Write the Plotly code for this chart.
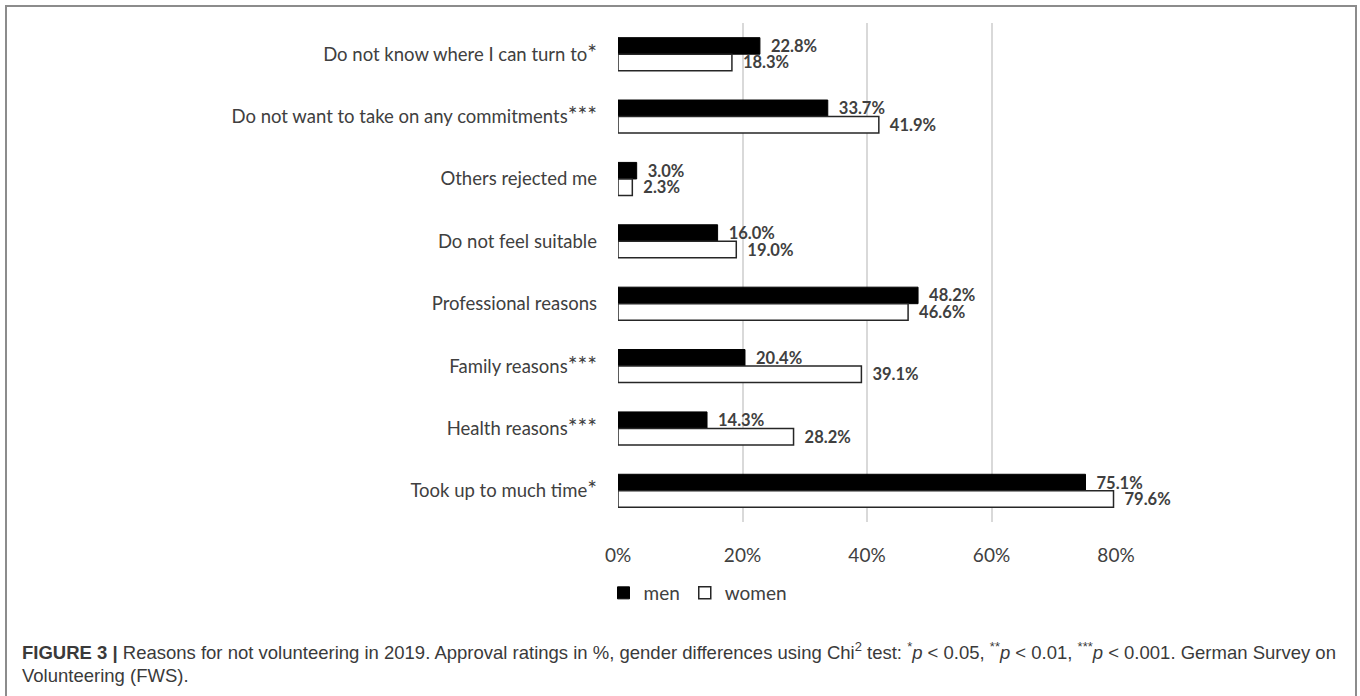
import plotly.graph_objects as go

# Reasons for not volunteering, top to bottom
categories = [
    "Do not know where I can turn to*",
    "Do not want to take on any commitments***",
    "Others rejected me",
    "Do not feel suitable",
    "Professional reasons",
    "Family reasons***",
    "Health reasons***",
    "Took up to much time*",
]
men = [0.228, 0.337, 0.030, 0.160, 0.482, 0.204, 0.143, 0.751]
women = [0.183, 0.419, 0.023, 0.190, 0.466, 0.391, 0.282, 0.796]
tick_vals = [0, 0.2, 0.4, 0.6, 0.8]
tick_text = ["0%", "20%", "40%", "60%", "80%"]

W, H = 1360, 696
# plot area in pixels
PX0, PX1, PY0, PY1 = 618, 1116, 23, 522


def px_x(p):
    return (p - PX0) / (PX1 - PX0)


def px_y(p):
    return (PY1 - p) / (PY1 - PY0)


def star_label(name):
    # draw the significance asterisks a little larger than the words
    base = name.rstrip("*")
    stars = name[len(base):]
    if not stars:
        return base
    return base + '<span style="font-size:23px">' + stars + "</span>"


LABEL = "#404040"
FONT = "Lato, Carlito, 'Open Sans', sans-serif"

fig = go.Figure()
fig.add_trace(go.Bar(
    name="men", y=categories, x=men, orientation="h",
    marker=dict(color="black", line=dict(color="black", width=1)),
    text=["  " + f"{v*100:.1f}%" for v in men], textposition="outside",
    constraintext="none",
    textfont=dict(family=FONT, size=16.5, color=LABEL, weight="bold"),
    cliponaxis=False,
))
fig.add_trace(go.Bar(
    name="women", y=categories, x=women, orientation="h",
    marker=dict(color="white", line=dict(color="#262626", width=1.5)),
    text=["  " + f"{v*100:.1f}%" for v in women], textposition="outside",
    constraintext="none",
    textfont=dict(family=FONT, size=16.5, color=LABEL, weight="bold"),
    cliponaxis=False,
))

fig.update_layout(
    width=W, height=H,
    margin=dict(l=PX0, r=W - PX1, t=PY0, b=H - PY1),
    paper_bgcolor="white", plot_bgcolor="white",
    barmode="group", bargap=0.47, bargroupgap=0,
    font=dict(family=FONT, color=LABEL),
    showlegend=True,
    legend=dict(
        orientation="h", x=px_x(698), y=px_y(593), xanchor="center", yanchor="middle",
        font=dict(family=FONT, size=19, color=LABEL), traceorder="normal",
        itemwidth=30, bgcolor="rgba(0,0,0,0)",
    ),
    xaxis=dict(
        range=[0, 0.8], tickvals=tick_vals, ticktext=tick_text,
        showgrid=True, gridcolor="#d9d9d9", gridwidth=1.5,
        zeroline=False, showline=False, ticks="",
        ticklabelstandoff=20,
        tickfont=dict(family=FONT, size=19, color=LABEL),
    ),
    yaxis=dict(
        autorange="reversed", showgrid=False, zeroline=False, showline=False,
        ticks="", ticklabelstandoff=20,
        tickmode="array", tickvals=categories,
        ticktext=[star_label(c) for c in categories],
        tickfont=dict(family=FONT, size=18.5, color=LABEL),
    ),
)

# outer frame around chart and caption
fig.add_shape(
    type="rect", xref="paper", yref="paper",
    x0=px_x(6), x1=px_x(1356), y0=px_y(720), y1=px_y(6),
    line=dict(color="#8c8c8c", width=2), fillcolor="rgba(0,0,0,0)", layer="below",
)

CAP_FONT = "'Liberation Sans', Arial, sans-serif"
caption1 = (
    "<b>FIGURE 3 |</b> Reasons for not volunteering in 2019. Approval ratings in %, "
    "gender differences using Chi<sup>2</sup> test: <sup>*</sup><i>p</i> &lt; 0.05, "
    "<sup>**</sup><i>p</i> &lt; 0.01, <sup>***</sup><i>p</i> &lt; 0.001. German Survey on"
)
caption2 = "Volunteering (FWS)."
fig.add_annotation(
    text=caption1, xref="paper", yref="paper", x=px_x(20), y=px_y(651),
    xanchor="left", yanchor="middle", showarrow=False,
    font=dict(family=CAP_FONT, size=18.5, color="#3a3a3a"),
)
fig.add_annotation(
    text=caption2, xref="paper", yref="paper", x=px_x(20), y=px_y(675),
    xanchor="left", yanchor="middle", showarrow=False,
    font=dict(family=CAP_FONT, size=18.5, color="#3a3a3a"),
)

fig.write_html("out.html")
